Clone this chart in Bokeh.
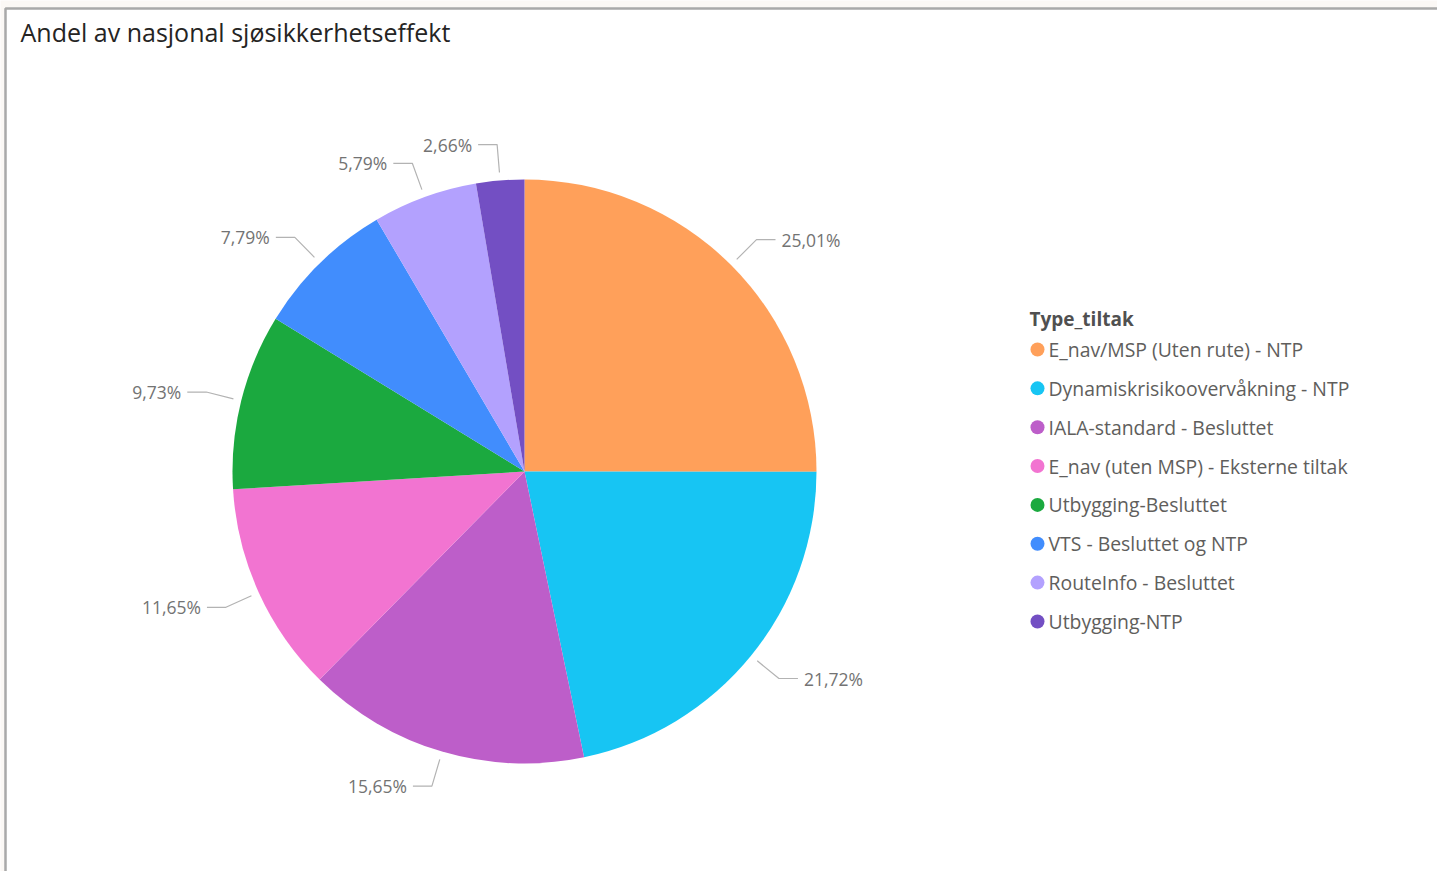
import math
from bokeh.plotting import figure
from bokeh.models import Range1d, ColumnDataSource
from bokeh.core.properties import value
from bokeh.embed import file_html
from bokeh.resources import INLINE

# ---- data ----
categories = [
    "E_nav/MSP (Uten rute) - NTP",
    "Dynamiskrisikoovervåkning - NTP",
    "IALA-standard - Besluttet",
    "E_nav (uten MSP) - Eksterne tiltak",
    "Utbygging-Besluttet",
    "VTS - Besluttet og NTP",
    "RouteInfo - Besluttet",
    "Utbygging-NTP",
]
shares = [25.01, 21.72, 15.65, 11.65, 9.73, 7.79, 5.79, 2.66]
colors = ["#FFA05A", "#17C5F3", "#BD5EC9", "#F274D1", "#1BA93F",
          "#418DFD", "#B3A1FE", "#734FC3"]
title_text = "Andel av nasjonal sjøsikkerhetseffekt"
legend_title = "Type_tiltak"

W, H = 1437, 871
FONT = "Open Sans"

def Y(py):
    return H - py

p = figure(width=W, height=H, output_backend="svg", toolbar_location=None,
           x_axis_type=None, y_axis_type=None, min_border=0,
           x_range=Range1d(0, W), y_range=Range1d(0, H))
p.grid.visible = False
p.outline_line_color = None
p.background_fill_color = "#FBF8F5"
p.border_fill_color = "#FBF8F5"

# visual card
p.quad(left=5, right=W + 5, bottom=-5, top=Y(8), fill_color="white",
       line_color="#A9A9A9", line_width=2.5)

# title
p.text(x=[20], y=[Y(31)], text=[title_text], text_font=value(FONT),
       text_font_size="25px", text_color="#252423", text_baseline="middle",
       text_align="left")

# ---- pie ----
cx, cy, R = 524, Y(471), 292
total = sum(shares)
starts, ends, mids = [], [], []
cum = 0.0
for v in shares:
    a0 = math.pi / 2 - 2 * math.pi * cum / total
    cum += v
    a1 = math.pi / 2 - 2 * math.pi * cum / total
    starts.append(a0)
    ends.append(a1)
    mids.append((a0 + a1) / 2)

src = ColumnDataSource(dict(start=starts, end=ends, color=colors))
p.wedge(x=cx, y=cy, radius=R, start_angle="start", end_angle="end",
        direction="clock", fill_color="color", line_color=None, source=src)

# leader lines and labels
lx, ly, tx, ty, tt, ta = [], [], [], [], [], []
for v, m in zip(shares, mids):
    c, s = math.cos(m), math.sin(m)
    x0, y0 = cx + (R + 8) * c, cy + (R + 8) * s
    x1, y1 = cx + (R + 36) * c, cy + (R + 36) * s
    side = 1 if c >= 0 else -1
    x2 = x1 + side * 19
    lx.append([x0, x1, x2])
    ly.append([y0, y1, y1])
    tx.append(x2 + side * 6)
    ty.append(y1)
    tt.append(f"{v:.2f}".replace(".", ",") + "%")
    ta.append("left" if side > 0 else "right")

p.multi_line(xs=lx, ys=ly, line_color="#B3B3B3", line_width=1.2)
p.text(x=tx, y=ty, text=tt, text_align=ta, text_baseline="middle",
       text_font=value(FONT), text_font_size="17.5px", text_color="#737373")

# ---- legend ----
p.text(x=[1029], y=[Y(318)], text=[legend_title], text_font=value(FONT),
       text_font_size="19px", text_font_style="bold", text_color="#505050",
       text_baseline="middle")
leg_y = [Y(349 + i * 38.85) for i in range(len(categories))]
p.scatter(x=[1037] * len(categories), y=leg_y, size=14, marker="circle",
          fill_color=colors, line_color=None)
p.text(x=[1048] * len(categories), y=leg_y, text=categories,
       text_font=value(FONT), text_font_size="19.4px", text_color="#605E5C",
       text_baseline="middle")

open("out.html", "w").write(file_html(p, INLINE))
